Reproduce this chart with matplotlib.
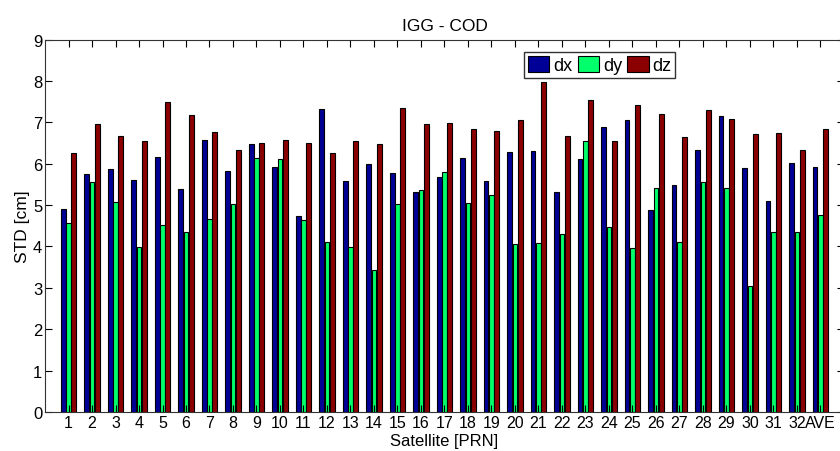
import numpy as np
import matplotlib.pyplot as plt

plt.rcParams['font.family'] = ['Liberation Sans', 'DejaVu Sans']

labels = [str(i) for i in range(1, 33)] + ['AVE']
dx = [4.90, 5.76, 5.86, 5.60, 6.15, 5.39, 6.58, 5.82, 6.48, 5.93, 4.74,
      7.32, 5.57, 6.00, 5.77, 5.31, 5.68, 6.13, 5.59, 6.29, 6.30, 5.31,
      6.12, 6.88, 7.05, 4.89, 5.48, 6.34, 7.16, 5.89, 5.10, 6.01, 5.92]
dy = [4.57, 5.56, 5.07, 3.98, 4.51, 4.36, 4.66, 5.03, 6.14, 6.11, 4.65,
      4.10, 3.99, 3.43, 5.02, 5.36, 5.81, 5.05, 5.25, 4.07, 4.08, 4.31,
      6.55, 4.46, 3.96, 5.42, 4.11, 5.56, 5.42, 3.05, 4.36, 4.34, 4.76]
dz = [6.26, 6.95, 6.66, 6.56, 7.50, 7.17, 6.76, 6.34, 6.51, 6.57, 6.50,
      6.26, 6.54, 6.47, 7.35, 6.97, 6.99, 6.83, 6.78, 7.05, 7.98, 6.66,
      7.54, 6.54, 7.42, 7.21, 6.64, 7.30, 7.08, 6.71, 6.75, 6.34, 6.85]

colors = ['#000096', '#00FF6A', '#8B0000']

fig = plt.figure(figsize=(8.4, 4.52), dpi=100)
ax = fig.add_axes([0.0536, 0.0863, 0.951, 0.824])

x = np.arange(1, len(labels) + 1)
w = 0.2
off = 0.225
for i, (vals, name) in enumerate(zip([dx, dy, dz], ['dx', 'dy', 'dz'])):
    ax.bar(x + (i - 1) * off, vals, width=w, color=colors[i],
           edgecolor='black', linewidth=0.8, label=name)

ax.set_xlim(0, 34)
ax.set_ylim(0, 9)
ax.set_xticks(x)
ax.set_xticklabels(labels, fontsize=11.5)
ax.set_yticks(range(0, 10))
ax.tick_params(axis='y', labelsize=12, pad=2)
ax.tick_params(axis='x', pad=2)
ax.tick_params(direction='in', top=True, right=True, length=5, width=0.8)
for s in ax.spines.values():
    s.set_linewidth(0.8)
    s.set_color('#333333')

ax.set_title('IGG - COD', fontsize=12.5, pad=7)
ax.set_xlabel('Satellite [PRN]', fontsize=12)
ax.xaxis.set_label_coords(0.5, -0.057)
ax.set_ylabel('STD [cm]', fontsize=12.5, labelpad=2)

leg = ax.legend(loc='center', bbox_to_anchor=(0.714, 0.854),
                bbox_transform=fig.transFigure, ncol=3, fontsize=13,
                handlelength=1.2, handleheight=1.0, handletextpad=0.2,
                columnspacing=0.3, borderpad=0.2, fancybox=False,
                framealpha=1, edgecolor='#333333')

fig.savefig('out.png', dpi=100)
